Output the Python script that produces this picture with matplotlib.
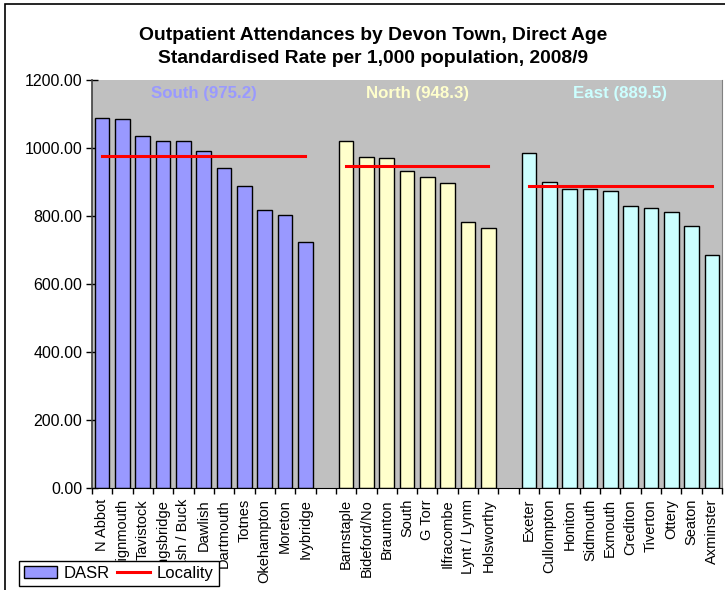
import matplotlib
matplotlib.use("Agg")
import matplotlib.pyplot as plt
import numpy as np
from matplotlib.patches import Rectangle, Patch
from matplotlib.lines import Line2D

plt.rcParams['font.family'] = ['Liberation Sans', 'DejaVu Sans']

# data
south_towns = ['N Abbot', 'Teignmouth', 'Tavistock', 'Kingsbridge', 'Ash / Buck', 'Dawlish',
               'Dartmouth', 'Totnes', 'Okehampton', 'Moreton', 'Ivybridge']
south_dasr = [1088, 1084, 1035, 1021, 1021, 990, 941, 888, 817, 802, 724]
north_towns = ['Barnstaple', 'Bideford/No', 'Braunton', 'South', 'G Torr', 'Ilfracombe',
               'Lynt / Lynm', 'Holsworthy']
north_dasr = [1021, 975, 971, 933, 915, 897, 783, 765]
east_towns = ['Exeter', 'Cullompton', 'Honiton', 'Sidmouth', 'Exmouth', 'Crediton',
              'Tiverton', 'Ottery', 'Seaton', 'Axminster']
east_dasr = [986, 900, 880, 880, 874, 829, 824, 811, 771, 685]
localities = ['South', 'North', 'East']
locality_rate = [975.2, 948.3, 889.5]

groups = [(south_towns, south_dasr, '#9999FF'),
          (north_towns, north_dasr, '#FFFFCC'),
          (east_towns, east_dasr, '#CCFFFF')]

fig = plt.figure(figsize=(7.25, 5.9), dpi=100)
ax = fig.add_axes([92 / 725, 1 - 488 / 590, 630 / 725, 408 / 590])
ax.set_facecolor('#C0C0C0')

# outer chart border
fig.patches.append(Rectangle((5 / 725, -0.1), 1.0, 1.1 - 3.5 / 590, transform=fig.transFigure,
                             fill=False, edgecolor='black', linewidth=1.2))

start = 0
all_pos, all_names = [], []
for (towns, vals, col), name, rate in zip(groups, localities, locality_rate):
    pos = np.arange(start, start + len(towns))
    ax.bar(pos, vals, width=0.72, color=col, edgecolor='black', linewidth=1.0, zorder=2)
    ax.plot([pos[0], pos[-1]], [rate, rate], color='red', linewidth=2.2, zorder=3)
    ax.text(pos.mean(), 1182, f'{name} ({rate})', color=col, fontsize=12.2, fontweight='bold',
            ha='center', va='top')
    all_pos.extend(pos)
    all_names.extend(towns)
    start += len(towns) + 1

ax.set_xlim(-0.5, start - 1.5)
ax.set_ylim(0, 1200)
ax.set_yticks(np.arange(0, 1201, 200))
ax.set_yticklabels([f'{v:.2f}' for v in np.arange(0, 1201, 200)], fontsize=11.5)
ax.tick_params(axis='y', direction='inout', length=8, width=1, pad=3)

ax.set_xticks(all_pos)
ax.set_xticklabels(all_names, rotation=90, fontsize=10.5, va='top', ha='center')
ax.tick_params(axis='x', which='major', length=0, pad=8)
ax.set_xticks(np.arange(-0.5, start - 1, 1), minor=True)
ax.tick_params(axis='x', which='minor', direction='out', length=4, width=1)

ax.spines['top'].set_visible(False)
ax.spines['right'].set_color('#808080')
ax.spines['left'].set_color('#404040')
ax.spines['bottom'].set_color('black')
ax.spines['left'].set_linewidth(1.2)

fig.text(373 / 725, 1 - 47 / 590, 'Outpatient Attendances by Devon Town, Direct Age\n'
         'Standardised Rate per 1,000 population, 2008/9',
         ha='center', va='center', fontsize=13.9, fontweight='bold', linespacing=1.5)

handles = [Patch(facecolor='#9999FF', edgecolor='black', label='DASR'),
           Line2D([0], [0], color='red', linewidth=2.2, label='Locality')]
leg = fig.legend(handles=handles, loc='upper left', bbox_to_anchor=(19 / 725, 1 - 561 / 590),
                 ncol=2, fontsize=12, frameon=True, fancybox=False, framealpha=1,
                 edgecolor='black', handlelength=2.0, handletextpad=0.4, columnspacing=0.4,
                 borderpad=0.3, borderaxespad=0)
leg.get_frame().set_linewidth(1.0)

fig.savefig('out.png', dpi=100)
